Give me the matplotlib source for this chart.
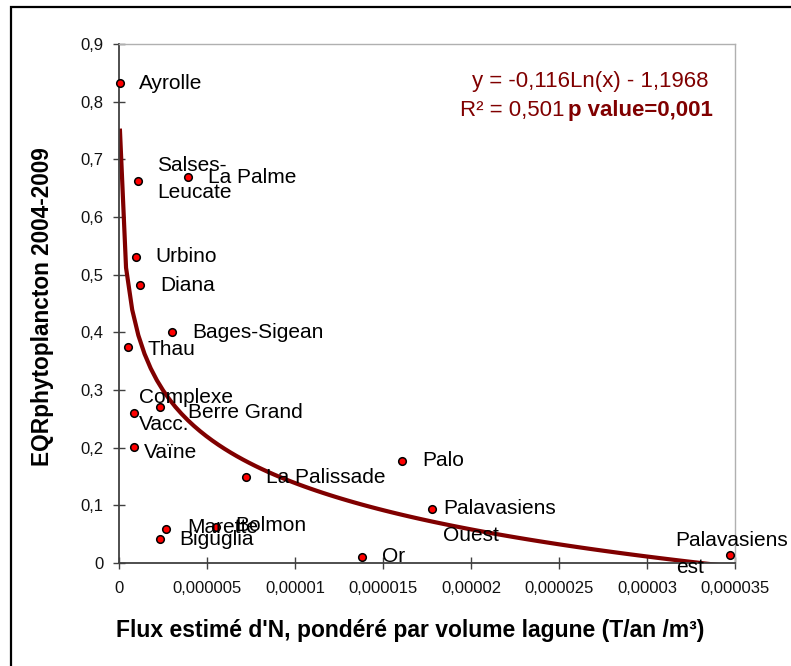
import numpy as np
import matplotlib.pyplot as plt
from matplotlib.patches import Rectangle

plt.rcParams['font.family'] = ['Liberation Sans', 'DejaVu Sans']

# Lagunes : flux d'N (T/an/m3) et EQR phytoplancton 2004-2009
lagunes = ['Ayrolle', 'Salses-\nLeucate', 'La Palme', 'Urbino', 'Diana',
           'Bages-Sigean', 'Thau', 'Complexe\nVacc.', 'Berre Grand', 'Vaïne',
           'La Palissade', 'Palo', 'Palavasiens\nOuest', 'Or',
           'Palavasiens\nest', 'Marette', 'Bolmon', 'Biguglia']
flux_n = [0.05e-6, 1.08e-6, 3.92e-6, 0.97e-6, 1.19e-6,
          3.01e-6, 0.51e-6, 0.85e-6, 2.33e-6, 0.85e-6,
          7.2e-6, 16.1e-6, 17.8e-6, 13.8e-6,
          34.7e-6, 2.67e-6, 5.5e-6, 2.33e-6]
eqr = [0.832, 0.662, 0.669, 0.531, 0.482,
       0.400, 0.375, 0.260, 0.270, 0.201,
       0.149, 0.177, 0.094, 0.010,
       0.014, 0.059, 0.063, 0.042]

# Courbe de tendance logarithmique : y = a Ln(x) + b
coef_a = -0.116
coef_b = -1.1968
r2 = 0.501
p_value = 0.001

x_ticks = [0, 5e-6, 10e-6, 15e-6, 20e-6, 25e-6, 30e-6, 35e-6]
x_tick_labels = ['0', '0,000005', '0,00001', '0,000015', '0,00002',
                 '0,000025', '0,00003', '0,000035']
y_ticks = [0, 0.1, 0.2, 0.3, 0.4, 0.5, 0.6, 0.7, 0.8, 0.9]
y_tick_labels = ['0', '0,1', '0,2', '0,3', '0,4', '0,5', '0,6', '0,7', '0,8', '0,9']

# décalage des étiquettes (pixels)
decalages = {
    'Ayrolle': (19, 0), 'Salses-\nLeucate': (19, 2), 'La Palme': (20, 0),
    'Urbino': (19, 0), 'Diana': (20, 0), 'Bages-Sigean': (20, 0),
    'Thau': (20, -3), 'Complexe\nVacc.': (5, 2), 'Berre Grand': (28, -5),
    'Vaïne': (10, -5), 'La Palissade': (20, 0), 'Palo': (20, 0),
    'Palavasiens\nOuest': (11, -13), 'Or': (20, 1),
    'Palavasiens\nest': (-54, 1), 'Marette': (21, 1), 'Bolmon': (19, 1),
    'Biguglia': (19, -1),
}

ROUGE = '#800000'
W, H = 791, 666

fig = plt.figure(figsize=(W / 100, H / 100), dpi=100)
fig.patch.set_facecolor('white')

# cadre du graphique
fig.patches.append(Rectangle((11 / W, -0.1), 1.2, (H - 7) / H + 0.1,
                             transform=fig.transFigure, fill=False,
                             edgecolor='black', linewidth=1.6))

ax = fig.add_axes([119 / W, (H - 563) / H, (735 - 119) / W, (563 - 44) / H])

ax.set_xlim(0, 35e-6)
ax.set_ylim(0, 0.9)

# tendance
xs = np.linspace(min(flux_n), max(flux_n), 100)
ys = coef_a * np.log(xs) + coef_b
ax.plot(xs, ys, color=ROUGE, linewidth=3, zorder=2, solid_capstyle='butt')

ax.scatter(flux_n, eqr, s=30, color='red', edgecolors='black',
           linewidths=1.1, zorder=3, clip_on=False)

for nom, x, y in zip(lagunes, flux_n, eqr):
    dx, dy = decalages[nom]
    ax.annotate(nom, (x, y), xytext=(dx, dy), textcoords='offset pixels',
                ha='left', va='center', fontsize=15, linespacing=1.55,
                zorder=4)

ax.set_xticks(x_ticks)
ax.set_xticklabels(x_tick_labels)
ax.set_yticks(y_ticks)
ax.set_yticklabels(y_tick_labels)
ax.tick_params(axis='both', direction='inout', length=8.6, width=1,
               color='#404040', labelsize=12, labelcolor='#111111')
ax.tick_params(axis='y', pad=7)
ax.tick_params(axis='x', pad=9)

for cote in ['left', 'bottom']:
    ax.spines[cote].set_color('#404040')
    ax.spines[cote].set_linewidth(1.3)
for cote in ['top', 'right']:
    ax.spines[cote].set_color('#b0b0b0')
    ax.spines[cote].set_linewidth(1)

# titres des axes
fig.text(410 / W, (H - 631) / H,
         "Flux estimé d'N, pondéré par volume lagune (T/an /m³)",
         ha='center', va='center', fontsize=16.5, fontweight='bold')
fig.text(43 / W, (H - 307) / H, 'EQRphytoplancton 2004-2009',
         ha='center', va='center', rotation=90, fontsize=16.3,
         fontweight='bold')

# équation de la tendance
eq = f'y = {coef_a:.3f}Ln(x) - {abs(coef_b):.4f}'.replace('.', ',')
fig.text(708 / W, (H - 87) / H, eq, ha='right', va='baseline',
         fontsize=16, color=ROUGE)
t_p = fig.text(713 / W, (H - 116) / H, f'p value={p_value:.3f}'.replace('.', ','),
               ha='right', va='baseline', fontsize=16, color=ROUGE,
               fontweight='bold')
fig.canvas.draw()
x0 = t_p.get_window_extent().x0
fig.text((x0 - 4) / W, (H - 116) / H, f'R² = {r2:.3f}'.replace('.', ','),
         ha='right', va='baseline', fontsize=16, color=ROUGE)

fig.savefig('out.png', dpi=100, facecolor='white')
